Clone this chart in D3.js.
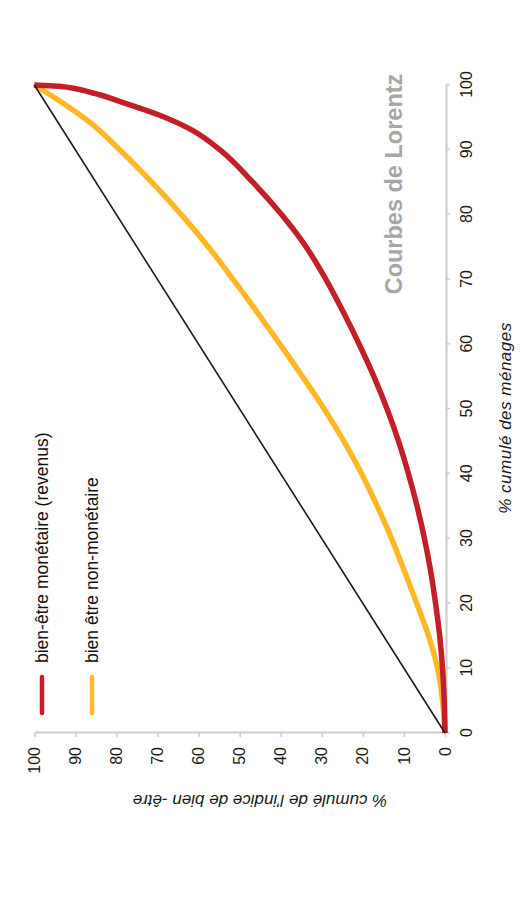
<!DOCTYPE html>
<html><head><meta charset="utf-8">
<script src="https://cdn.jsdelivr.net/npm/d3@7"></script>
<style>html,body{margin:0;padding:0;background:#fff;}svg{display:block;}</style>
</head><body>
<script>
// ---- data ----
const xTicks = [0,10,20,30,40,50,60,70,80,90,100];
const yTicks = [0,10,20,30,40,50,60,70,80,90,100];
const title = "Courbes de Lorentz";
const xTitle = "% cumulé des ménages";
const yTitle = "% cumulé de l'indice de bien -être";
const seriesNames = ["bien-être monétaire (revenus)", "bien être non-monétaire"];
const seriesColors = ["#c21f28", "#fdb827"];
// % cumulé des ménages -> % cumulé de l'indice
const redX = [0,5,10,15,20,25,30,35,40,45,50,55,60,65,70,75,80,85,90,93,95.4,97.2,98.8,99.8,100];
const redY = [0,0.2,0.6,1.3,2.3,3.5,5.0,6.8,8.9,11.3,14.1,17.3,20.9,24.8,29.0,33.8,39.8,46.8,54.8,61.5,69.8,78,86,94,100];
const orangeX = [0,5,10,15,20,25,30,35,40,45,50,55,60,65,70,75,80,85,90,94,97.6,100];
const orangeY = [0,0.6,1.8,4.0,6.9,9.9,13.0,16.5,20.3,24.6,29.4,34.7,40.2,45.8,51.6,57.6,64.2,71.4,79.2,86.0,94.0,100];
const diagX = [0,100];
const diagY = [0,100];

// ---- chart (drawn upright, then rotated -90deg) ----
const W = 921, H = 525;
const svg = d3.select("body").append("svg").attr("width", 525).attr("height", 921);
const g = svg.append("g").attr("transform", `translate(0,${W}) rotate(-90)`);
const font = "Liberation Sans, Arial, sans-serif";

const x = d3.scaleLinear().domain([0,100]).range([188,836]);
const y = d3.scaleLinear().domain([0,100]).range([445,34.3]);

const xAxis = g.append("g").attr("transform","translate(0,446)")
  .call(d3.axisBottom(x).tickValues(xTicks).tickSize(4).tickSizeOuter(0).tickPadding(10.5));
const yAxis = g.append("g").attr("transform","translate(188,0)")
  .call(d3.axisLeft(y).tickValues(yTicks).tickSize(4).tickSizeOuter(0).tickPadding(10));
[xAxis, yAxis].forEach(a => {
  a.select(".domain").attr("stroke","#cacaca").attr("stroke-width",2);
  a.selectAll(".tick line").attr("stroke","#cacaca").attr("stroke-width",1.5);
  a.selectAll(".tick text").attr("font-family",font).attr("font-size",16).attr("fill","#1a1a1a");
});

const line = d3.line().x(d=>x(d[0])).y(d=>y(d[1])).curve(d3.curveMonotoneX);
const orangeData = orangeX.map((v,i)=>[v,orangeY[i]]);
const redData = redX.map((v,i)=>[v,redY[i]]);
g.append("path").datum(orangeData).attr("d",line).attr("fill","none")
  .attr("stroke",seriesColors[1]).attr("stroke-width",5.5).attr("stroke-linejoin","round");
g.append("path").datum(redData).attr("d",line).attr("fill","none")
  .attr("stroke",seriesColors[0]).attr("stroke-width",5.5).attr("stroke-linejoin","round");
g.append("path").datum(diagX.map((v,i)=>[v,diagY[i]])).attr("d",d3.line().x(d=>x(d[0])).y(d=>y(d[1])))
  .attr("fill","none").attr("stroke","#1a1a1a").attr("stroke-width",1.6);

// title
g.append("text").attr("x",737).attr("y",402).attr("text-anchor","middle")
  .attr("font-family",font).attr("font-weight","bold").attr("font-size",23.5)
  .attr("fill","#a6a6a6").text(title);

// axis titles
g.append("text").attr("x",503).attr("y",511).attr("text-anchor","middle")
  .attr("font-family",font).attr("font-style","italic").attr("font-size",17)
  .attr("letter-spacing",0.5).attr("fill","#1a1a1a").text(xTitle);
g.append("text").attr("transform","translate(126,260) rotate(-90)").attr("text-anchor","middle")
  .attr("font-family",font).attr("font-style","italic").attr("font-size",17)
  .attr("fill","#1a1a1a").text(yTitle);

// legend
const legY = [42, 92];
seriesNames.forEach((name,i)=>{
  g.append("line").attr("x1",208).attr("x2",244).attr("y1",legY[i]).attr("y2",legY[i])
    .attr("stroke",seriesColors[i]).attr("stroke-width",4.5).attr("stroke-linecap","round");
  g.append("text").attr("x",258).attr("y",legY[i]+6).attr("font-family",font)
    .attr("font-size",17.5).attr("fill","#111").text(name);
});
</script>
</body></html>
